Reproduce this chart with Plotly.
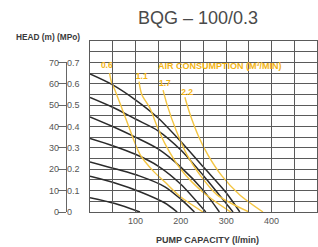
import plotly.graph_objects as go

# ---- data ----
flow_ticks = [100, 200, 300, 400, 500]
flow_tick_text = ["100", "200", "300", "400", "500"]
head_ticks = [0, 10, 20, 30, 40, 50, 60, 70]
head_tick_text = ["0", "10", "20", "30", "40", "50", "60", "70"]
mpa_ticks = [0, 0.1, 0.2, 0.3, 0.4, 0.5, 0.6, 0.7]
mpa_tick_text = ["0", "0.1", "0.2", "0.3", "0.4", "0.5", "0.6", "0.7"]

# pump head curves (black)
c1_q = [0, 50, 100, 150, 200, 250, 300, 330]
c1_h = [64.6, 59.5, 52.5, 44, 33, 21, 9, 0]
c2_q = [0, 50, 100, 150, 200, 250, 300, 315]
c2_h = [53.6, 49, 43.5, 38, 29, 17, 4, 0]
c3_q = [0, 50, 100, 150, 200, 250, 285]
c3_h = [44.5, 40, 35, 29.5, 21, 10, 0]
c4_q = [0, 50, 100, 150, 200, 255]
c4_h = [34.4, 31, 27, 21.5, 13, 0]
c5_q = [0, 55, 110, 165, 200, 230]
c5_h = [23.4, 20.2, 16.8, 11.8, 6, 0]
c6_q = [0, 55, 110, 165, 192]
c6_h = [16.7, 13.6, 9.5, 4.2, 0]
c7_q = [0, 55, 110]
c7_h = [6.7, 4.0, 0]

# air consumption curves (yellow)
air_labels = ["<b>0.6</b>", "<b>1.1</b>", "<b>1.7</b>", "<b>2.2</b>"]
air_label_q = [37, 114, 165, 214]
air_label_h = [68.2, 63, 60, 55.6]
a06_q = [43, 47, 55, 80, 110, 140, 165, 200, 249]
a06_h = [65, 61, 57, 43, 27, 19, 14, 7, 0]
a11_q = [108, 114, 132, 148, 165, 200, 250, 310]
a11_h = [61, 55, 48.6, 40, 32, 20, 9, 0]
a17_q = [161, 170, 190, 214, 240, 280, 350]
a17_h = [57, 50, 38, 26.6, 18, 8, 0]
a22_q = [209, 220, 240, 260, 290, 330, 381]
a22_h = [53.7, 46, 35, 26.6, 17, 8, 0]

FONT = "Liberation Sans, Arial, sans-serif"
BLACK = "#2b2b2b"
YEL = "#f4c542"
YEL_TXT = "#f2b414"
GRID = "#5a5a5a"

W, H = 318, 247
M_T, M_B, M_R = 41, 35, 1
plot_left = 90
plot_w = W - M_R
plot_h = H - M_T - M_B
side_axis_px = 66
fig = go.Figure()

for q, h in [(c1_q, c1_h), (c2_q, c2_h), (c3_q, c3_h), (c4_q, c4_h),
             (c5_q, c5_h), (c6_q, c6_h), (c7_q, c7_h)]:
    fig.add_trace(go.Scatter(x=q, y=h, mode="lines",
                             line=dict(color=BLACK, width=1.5, shape="spline", smoothing=0.8),
                             hoverinfo="skip", showlegend=False))
for q, h in [(a06_q, a06_h), (a11_q, a11_h), (a17_q, a17_h), (a22_q, a22_h)]:
    fig.add_trace(go.Scatter(x=q, y=h, mode="lines",
                             line=dict(color=YEL, width=1.4, shape="spline", smoothing=0.8),
                             hoverinfo="skip", showlegend=False))

fig.add_trace(go.Scatter(x=air_label_q, y=air_label_h, mode="text", text=air_labels,
                         textfont=dict(family=FONT, size=8.5, color=YEL_TXT),
                         hoverinfo="skip", showlegend=False))

# empty traces to register side axes
fig.add_trace(go.Scatter(x=[], y=[], yaxis="y2", showlegend=False, hoverinfo="skip"))
fig.add_trace(go.Scatter(x=[], y=[], yaxis="y3", showlegend=False, hoverinfo="skip"))


def px_x(px):
    return px / plot_w


def px_y(py):
    return (H - M_B - py) / plot_h


fig.update_layout(
    width=W, height=H,
    margin=dict(l=0, r=M_R, t=M_T, b=M_B),
    paper_bgcolor="white", plot_bgcolor="rgba(0,0,0,0)",
    font=dict(family=FONT, color="#555555", size=9),
    title=dict(text="BQG – 100/0.3", x=198 / W, xref="container", xanchor="center",
               y=1 - 18 / H, yref="container", yanchor="middle",
               font=dict(family=FONT, size=18, color="#4a4a4a")),
    xaxis=dict(domain=[plot_left / plot_w, 1], range=[0, 500],
               tickvals=flow_ticks, ticktext=flow_tick_text,
               showgrid=True, gridcolor=GRID, gridwidth=1,
               minor=dict(dtick=50, showgrid=True, gridcolor=GRID, gridwidth=1),
               showline=True, linecolor=GRID, linewidth=1.2, mirror=True,
               zeroline=False, ticks="", tickfont=dict(size=9, color="#555555"),
               fixedrange=True),
    yaxis=dict(domain=[0, 1], range=[0, 80], dtick=5, showgrid=True, gridcolor=GRID, gridwidth=1,
               showline=True, linecolor=GRID, linewidth=1.2, mirror=True,
               showticklabels=False, ticks="", zeroline=False, fixedrange=True),
    yaxis2=dict(anchor="free", position=side_axis_px / plot_w, side="left",
                domain=[0, 70 / 80], range=[0, 70],
                tickvals=head_ticks, ticktext=head_tick_text,
                showline=True, linecolor="#666666", linewidth=1.2,
                ticks="outside", ticklen=8, tickcolor="#666666", tickwidth=1,
                ticklabelstandoff=-3,
                showgrid=False, zeroline=False, tickfont=dict(size=9, color="#555555"),
                fixedrange=True),
    yaxis3=dict(overlaying="y2", anchor="free", position=side_axis_px / plot_w, side="right",
                range=[0, 0.7],
                tickvals=mpa_ticks, ticktext=mpa_tick_text,
                showline=False, ticks="", showgrid=False, zeroline=False,
                tickfont=dict(size=9, color="#555555"), fixedrange=True),
    annotations=[
        dict(text="<b>HEAD (m) (MPo)</b>", x=px_x(48), y=px_y(37), xref="paper", yref="paper",
             showarrow=False, xanchor="center", yanchor="middle",
             font=dict(family=FONT, size=8.3, color="#3a3a3a")),
        dict(text="<b>PUMP CAPACITY (l/min)</b>", x=px_x(207), y=px_y(240),
             xref="paper", yref="paper", showarrow=False, xanchor="center", yanchor="middle",
             font=dict(family=FONT, size=9, color="#3a3a3a")),
        dict(text="<b>AIR CONSUMPTION (M³/MIN)</b>", x=286, y=68.2, xref="x", yref="y",
             showarrow=False, xanchor="center", yanchor="middle",
             font=dict(family=FONT, size=9, color=YEL_TXT)),
    ],
)

fig.write_html("out.html", config={"displayModeBar": False},
               post_script="document.body.style.margin='0px';document.body.style.overflow='hidden';")
